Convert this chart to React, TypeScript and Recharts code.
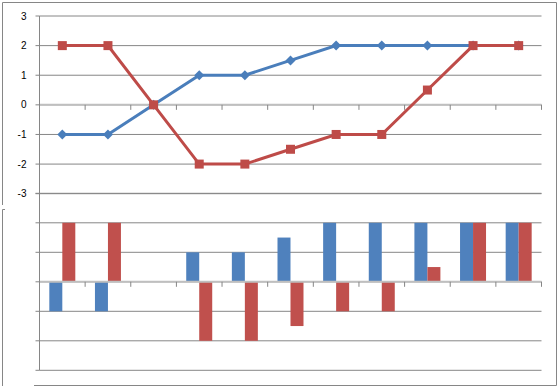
import { LineChart, Line, BarChart, Bar, XAxis, YAxis, CartesianGrid, ReferenceLine } from "recharts"

const categories = ["1", "2", "3", "4", "5", "6", "7", "8", "9", "10", "11"]
const blueValues = [-1, -1, 0, 1, 1, 1.5, 2, 2, 2, 2, 2]
const redValues = [2, 2, 0, -2, -2, -1.5, -1, -1, 0.5, 2, 2]
const yTicks = [-3, -2, -1, 0, 1, 2, 3]

const BLUE = "#4a7ebb"
const RED = "#be4b48"
const BAR_BLUE = "#4f81bd"
const BAR_RED = "#c0504d"
const GRID = "#868686"

const data = categories.map((name, i) => ({ name, blue: blueValues[i], red: redValues[i] }))

const tickFont = { fontFamily: "Liberation Sans, Arial, sans-serif", fontSize: 10, fill: "#000" }

// category axis drawn through zero, ticks on category boundaries
function zeroAxis(props: any) {
  const { x1, y1, x2 } = props
  const step = (x2 - x1) / categories.length
  return (
    <g>
      <line x1={x1} y1={y1} x2={x2} y2={y1} stroke="#bfbfbf" strokeWidth={2} />
      {categories.map((c, i) => (
        <line key={c} x1={x1 + step * (i + 1)} y1={y1} x2={x1 + step * (i + 1)} y2={y1 + 5} stroke={GRID} />
      ))}
    </g>
  )
}

function Diamond(props: any) {
  const { cx, cy } = props
  if (cx == null || cy == null) return <g />
  return <path d={`M${cx},${cy - 5}L${cx + 5},${cy}L${cx},${cy + 5}L${cx - 5},${cy}Z`} fill={BLUE} />
}

function Square(props: any) {
  const { cx, cy } = props
  if (cx == null || cy == null) return <g />
  return <rect x={cx - 4.5} y={cy - 4.5} width={9} height={9} fill={RED} />
}

function Frame() {
  return (
    <svg width={560} height={388} style={{ position: "absolute", left: 0, top: 0, pointerEvents: "none" }}>
      <g stroke={GRID} strokeWidth={1} fill="none">
        <line x1={2.5} y1={2.5} x2={556.5} y2={2.5} />
        <line x1={2.5} y1={2.5} x2={2.5} y2={205} />
        <line x1={556.5} y1={2.5} x2={556.5} y2={385.5} />
        <line x1={34} y1={385.5} x2={556.5} y2={385.5} />
        <line x1={2.5} y1={209.5} x2={2.5} y2={386} />
        <line x1={2.5} y1={209.5} x2={5} y2={209.5} />
      </g>
    </svg>
  )
}

export default function App() {
  return (
    <div style={{ position: "absolute", left: 0, top: 0, width: 560, height: 388, background: "#fff" }}>
      <div style={{ position: "absolute", left: 0, top: 0 }}>
        <BarChart
          width={560}
          height={388}
          data={data}
          margin={{ top: 193.3, right: 18.5, bottom: 17.7, left: 0 }}
          barGap={0}
          barCategoryGap="21.5%"
        >
          <CartesianGrid vertical={false} stroke={GRID} />
          <XAxis dataKey="name" hide />
          <YAxis
            width={39.5}
            domain={[-3, 3]}
            ticks={yTicks}
            tickSize={4}
            tickFormatter={() => ""}
            axisLine={{ stroke: GRID }}
            tickLine={{ stroke: GRID }}
          />
          <ReferenceLine y={0} shape={zeroAxis} />
          <Bar dataKey="blue" fill={BAR_BLUE} isAnimationActive={false} />
          <Bar dataKey="red" fill={BAR_RED} isAnimationActive={false} />
        </BarChart>
      </div>
      <div style={{ position: "absolute", left: 0, top: 0 }}>
        <LineChart
          width={560}
          height={388}
          data={data}
          margin={{ top: 16, right: 18.5, bottom: 194.3, left: 0 }}
        >
          <CartesianGrid vertical={false} stroke={GRID} />
          <XAxis dataKey="name" scale="band" hide />
          <YAxis
            width={39.5}
            domain={[-3, 3]}
            ticks={yTicks}
            tickSize={4}
            tickMargin={9}
            tick={tickFont}
            axisLine={{ stroke: GRID }}
            tickLine={{ stroke: GRID }}
          />
          <ReferenceLine y={0} shape={zeroAxis} />
          <Line dataKey="blue" stroke={BLUE} strokeWidth={3} dot={<Diamond />} activeDot={false} isAnimationActive={false} />
          <Line dataKey="red" stroke={RED} strokeWidth={3} dot={<Square />} activeDot={false} isAnimationActive={false} />
        </LineChart>
      </div>
      <Frame />
    </div>
  )
}
